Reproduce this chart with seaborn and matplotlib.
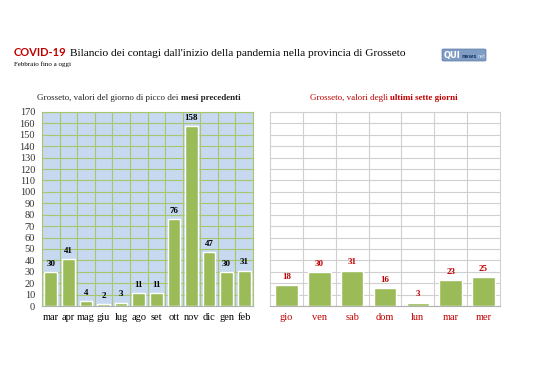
import matplotlib
matplotlib.use("Agg")
import matplotlib.pyplot as plt
import seaborn as sns
import pandas as pd
import numpy as np
from matplotlib.patches import FancyBboxPatch

months = ["mar", "apr", "mag", "giu", "lug", "ago", "set", "ott", "nov", "dic", "gen", "feb"]
month_vals = [30, 41, 4, 2, 3, 11, 11, 76, 158, 47, 30, 31]
days = ["gio", "ven", "sab", "dom", "lun", "mar", "mer"]
day_vals = [18, 30, 31, 16, 3, 23, 25]

sns.set_theme(style="white")
plt.rcParams["font.family"] = ["Liberation Serif", "DejaVu Serif"]

GREEN = "#9bbb59"
BLUE_BG = "#c6d9f1"
RED = "#c00000"

fig = plt.figure(figsize=(5.38, 3.80), dpi=100)
fig.patch.set_facecolor("white")

H, W = 380.0, 538.0
axL = fig.add_axes([42 / W, 1 - 306 / H, (253 - 42) / W, (306 - 112) / H])
axR = fig.add_axes([270 / W, 1 - 306 / H, (500 - 270) / W, (306 - 112) / H])

dfL = pd.DataFrame({"mese": months, "valore": month_vals})
dfR = pd.DataFrame({"giorno": days, "valore": day_vals})

sns.barplot(data=dfL, x="mese", y="valore", ax=axL, color=GREEN, width=0.72,
            saturation=1, zorder=3)
sns.barplot(data=dfR, x="giorno", y="valore", ax=axR, color=GREEN, width=0.69,
            saturation=1, zorder=3)

for ax, n, grid_col, lab_col in [(axL, len(months), "#a8c66c", "black"),
                                  (axR, len(days), "#d0d0d0", RED)]:
    ax.set_ylim(0, 170)
    ax.set_xlim(-0.5, n - 0.5)
    ax.set_yticks(np.arange(0, 171, 10))
    ax.set_xticks(np.arange(n - 1) + 0.5, minor=True)
    ax.grid(True, axis="y", which="major", color=grid_col, lw=0.8, zorder=0)
    ax.grid(True, axis="x", which="minor", color=grid_col, lw=0.8, zorder=0)
    ax.grid(False, axis="x", which="major")
    ax.set_xlabel("")
    ax.set_ylabel("")
    ax.tick_params(axis="both", which="both", length=0, pad=5)
    for lab in ax.get_xticklabels():
        lab.set_fontsize(7.5)
        lab.set_color(lab_col)
    for sp in ax.spines.values():
        sp.set_color(grid_col)
        sp.set_linewidth(0.8)
    for cont in ax.containers:
        ax.bar_label(cont, padding=3, fontsize=6.5, fontweight="bold", color=lab_col)

axL.set_facecolor(BLUE_BG)
axR.set_facecolor("white")
axR.set_yticklabels([])
for lab in axL.get_yticklabels():
    lab.set_fontsize(7.5)
    lab.set_color("#333333")
axL.spines["bottom"].set_color("#b0b0b0")
axR.spines["bottom"].set_color("#b0b0b0")

# Title
t1 = fig.text(14 / W, 1 - 56 / H, "COVID-19", fontsize=8, fontweight="bold",
              color=RED, family=["Lato", "DejaVu Sans"], va="baseline")
fig.canvas.draw()
r = fig.canvas.get_renderer()
bb = t1.get_window_extent(r)
fig.text(bb.x1 / W + 3 / W, 1 - 56 / H,
         "Bilancio dei contagi dall'inizio della pandemia nella provincia di Grosseto",
         fontsize=8.2, color="black", va="baseline")
fig.text(14 / W, 1 - 66 / H, "Febbraio fino a oggi", fontsize=5, color="black", va="baseline")


def mixed_title(cx, y, normal, bold, color):
    a = fig.text(0, y, normal, fontsize=6.5, color=color, va="baseline")
    b = fig.text(0, y, bold, fontsize=6.5, color=color, fontweight="bold", va="baseline")
    fig.canvas.draw()
    wa = a.get_window_extent(r).width
    wb = b.get_window_extent(r).width
    x0 = cx - (wa + wb) / 2
    a.set_x(x0 / W)
    b.set_x((x0 + wa) / W)


mixed_title(139, 1 - 100 / H, "Grosseto, valori del giorno di picco dei ", "mesi precedenti", "#222222")
mixed_title(384, 1 - 100 / H, "Grosseto, valori degli ", "ultimi sette giorni", RED)

# logo
logo = FancyBboxPatch((442 / W, 1 - 61 / H), 44 / W, 12 / H,
                      boxstyle="round,pad=0,rounding_size=0.003",
                      transform=fig.transFigure, facecolor="#7f9cc4",
                      edgecolor="#5a7aa8", lw=0.5)
fig.patches.append(logo)
q = fig.text(444 / W, 1 - 58 / H, "QUI", fontsize=6, fontweight="bold", color="white",
             family=["DejaVu Sans"], va="baseline")
fig.canvas.draw()
qb = q.get_window_extent(r)
nw = fig.text(qb.x1 / W + 0.5 / W, 1 - 58 / H, "news", fontsize=3.8, fontweight="bold",
              color="#1f3f6f", family=["DejaVu Sans"], va="baseline")
fig.canvas.draw()
nb = nw.get_window_extent(r)
fig.text(nb.x1 / W + 0.5 / W, 1 - 58 / H, "net", fontsize=3.5, color="#dde4f0",
         family=["DejaVu Sans"], va="baseline")

fig.savefig("out.png", dpi=100)
